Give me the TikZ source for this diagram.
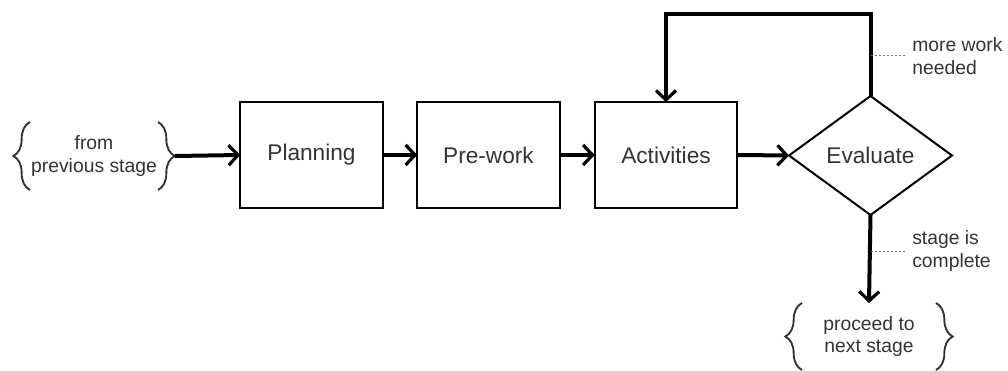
\documentclass[tikz,border=0pt]{standalone}
\usepackage{fontspec}
\setmainfont{Liberation Sans}
\usetikzlibrary{arrows.meta,shapes.geometric,decorations.pathreplacing,calc}
\begin{document}
\begin{tikzpicture}[x=0.75pt,y=-0.75pt,
  stepbox/.style={draw, line width=1.5pt, minimum width=107pt, minimum height=79.5pt,
    inner sep=0pt, outer sep=0pt, font=\fontsize{17}{20}\selectfont, text=black!80},
  decision/.style={draw, diamond, aspect=1.37, line width=1.5pt, minimum width=122.25pt,
    minimum height=89.25pt, inner sep=0pt, outer sep=0pt,
    font=\fontsize{17}{20}\selectfont, text=black!80},
  group/.style={inner sep=0pt, outer sep=0pt, align=center, text=black!80,
    font=\fontsize{14.5}{17}\selectfont},
  note/.style={inner sep=0pt, anchor=west, align=left, text=black!80,
    font=\fontsize{14.5}{17}\selectfont},
  tip/.tip={Straight Barb[length=7pt,width=15pt,line width=2.4pt]},
  flow/.style={line width=3pt, -tip},
  lead/.style={line width=0.6pt, draw=black!55, dash pattern=on 2pt off 1pt},
  curly/.style={line width=1.4pt, draw=black!80,
    decorate, decoration={brace, amplitude=12.5pt}},
]
\useasboundingbox (0,0) rectangle (1008,371);

% incoming and outgoing groups, framed by curly braces
\node[group, minimum width=121.5pt, minimum height=51pt] (prev) at (94,156)
  {from\\previous stage};
\node[group, minimum width=126pt, minimum height=50.25pt] (next) at (869,336.5)
  {proceed to\\next stage};
\draw[curly] ($(prev.south west)+(17,0)$) -- ($(prev.north west)+(17,0)$);
\draw[curly] ($(prev.north east)+(-17,0)$) -- ($(prev.south east)+(-17,0)$);
\draw[curly] ($(next.south west)+(17,0)$) -- ($(next.north west)+(17,0)$);
\draw[curly] ($(next.north east)+(-17,0)$) -- ($(next.south east)+(-17,0)$);

% the stage steps
\node[stepbox] (plan) at (311.5,155) {Planning};
\node[stepbox] (pre)  at (488.5,155) {Pre-work};
\node[stepbox] (act)  at (666,155) {Activities};
\node[decision] (eval) at (870.5,155.5) {Evaluate};

% main flow
\draw[flow] (prev.east) -- (plan.west);
\draw[flow] (plan.east) -- (pre.west);
\draw[flow] (pre.east) -- (act.west);
\draw[flow] (act.east) -- (eval.west);

% loop back when more work is needed
\coordinate (looptop) at (870.5,14);
\draw[flow] (eval.north) -- (looptop) -| (act.north);

% exit when the stage is complete
\draw[flow] (eval.south) -- (next.north);

% annotations
\coordinate (mw) at (905,55);
\coordinate (sc) at (906,251);
\draw[lead] (eval.north |- mw) -- (mw);
\draw[lead] (eval.south |- sc) -- (sc);
\node[note] (mwtext) at (912,56) {more work\\needed};
\node[note] (sctext) at (912,251) {stage is\\complete};
\end{tikzpicture}
\end{document}
